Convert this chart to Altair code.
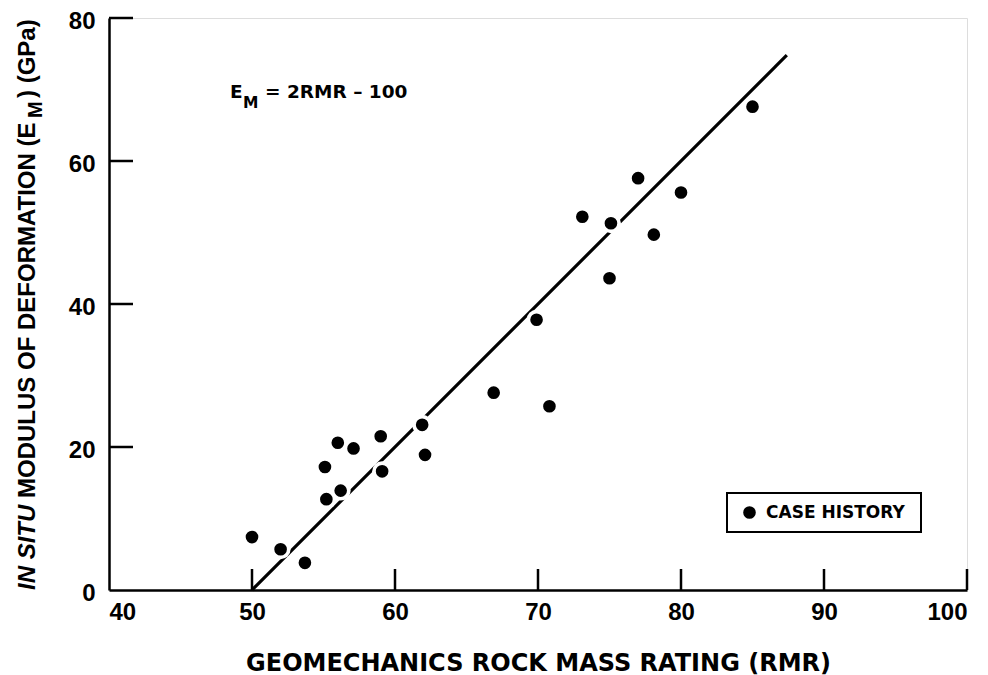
import altair as alt
import pandas as pd

# ---- data ----
rmr = [50.0, 52.0, 53.7, 55.1, 55.2, 56.0, 56.2, 57.1, 59.0, 59.1, 61.9, 62.1,
       66.9, 69.9, 70.8, 73.1, 75.0, 75.1, 77.0, 78.1, 80.0, 85.0]
em = [7.4, 5.7, 3.8, 17.2, 12.7, 20.6, 13.9, 19.8, 21.5, 16.6, 23.1, 18.9,
      27.6, 37.8, 25.7, 52.2, 43.6, 51.3, 57.6, 49.7, 55.6, 67.6]
series_name = ["CASE HISTORY"] * len(rmr)

line_rmr = [50.0, 87.4]
line_em = [0.0, 74.8]

x_ticks = [40, 50, 60, 70, 80, 90, 100]
y_ticks = [0, 20, 40, 60, 80]
x_inner_ticks = [50, 60, 70, 80, 90, 100]
y_inner_ticks = [20, 40, 60, 80]

x_title = "GEOMECHANICS ROCK MASS RATING (RMR)"
y_title_parts = ["IN SITU", "MODULUS OF DEFORMATION (E", "M", ") (GPa)"]
eq_parts = ["E", "M", "= 2RMR \u2013 100"]

W, H = 858, 572
FONT = "Liberation Sans"
WIDE = "DejaVu Sans"

pts = pd.DataFrame({"rmr": rmr, "em": em, "series": series_name})
line_df = pd.DataFrame({"rmr": line_rmr, "em": line_em})

xs = alt.Scale(domain=[40, 100], nice=False, zero=False)
ys = alt.Scale(domain=[0, 80], nice=False, zero=False)

xax = alt.Axis(values=x_ticks, ticks=False, grid=False, domainColor="black",
               domainWidth=2.5, labelFont=FONT, labelFontSize=24,
               labelFontWeight="bold", labelColor="black", labelPadding=10,
               title=x_title, titleFont=WIDE, titleFontSize=24,
               titleFontWeight="bold", titleColor="black",
               titleBaseline="alphabetic", titleY=80)
yax = alt.Axis(values=y_ticks, ticks=False, grid=False, domainColor="black",
               domainWidth=2.5, labelFont=FONT, labelFontSize=24,
               labelFontWeight="bold", labelColor="black", labelPadding=14,
               labelOffset=3, title=None)

base_line = alt.Chart(line_df).mark_line(color="black", strokeWidth=3.2).encode(
    x=alt.X("rmr:Q", scale=xs, axis=xax),
    y=alt.Y("em:Q", scale=ys, axis=yax),
)

halo = alt.Chart(pts).mark_circle(color="white", opacity=1, size=400).encode(
    x=alt.X("rmr:Q", scale=xs), y=alt.Y("em:Q", scale=ys)
)

# legend frame
frame = alt.Chart(pd.DataFrame({"k": [0]})).mark_rect(
    fill="white", stroke="black", strokeWidth=2).encode(
    x=alt.value(618), x2=alt.value(812), y=alt.value(475), y2=alt.value(514))

dots = alt.Chart(pts).mark_circle(opacity=1, size=160).encode(
    x=alt.X("rmr:Q", scale=xs),
    y=alt.Y("em:Q", scale=ys),
    color=alt.Color("series:N", scale=alt.Scale(range=["black"]),
                    legend=alt.Legend(title=None, orient="none", legendX=632,
                                      legendY=486, padding=0, zindex=1,
                                      labelFont=WIDE, labelFontSize=17,
                                      labelFontWeight="bold",
                                      labelColor="black", labelOffset=8,
                                      symbolSize=160, symbolType="circle",
                                      symbolStrokeWidth=0, labelLimit=300)),
)

xt_df = pd.DataFrame({"v": x_inner_ticks})
xtick = alt.Chart(xt_df).mark_rule(color="black", strokeWidth=2.5).encode(
    x=alt.X("v:Q", scale=xs), y=alt.value(H), y2=alt.value(H - 21)
)
yt_df = pd.DataFrame({"v": y_inner_ticks})
ytick = alt.Chart(yt_df).mark_rule(color="black", strokeWidth=2.5).encode(
    y=alt.Y("v:Q", scale=ys), x=alt.value(0), x2=alt.value(24)
)


def txt(s, x, y, size, font=WIDE, style="normal", angle=0, align="left",
        baseline="alphabetic"):
    kw = dict(font=font, fontSize=size, fontWeight="bold", fontStyle=style,
              align=align, baseline=baseline, color="black")
    if angle:
        kw["angle"] = angle
    return alt.Chart(pd.DataFrame({"t": [s]})).mark_text(**kw).encode(
        text="t:N", x=alt.value(x), y=alt.value(y))


# equation annotation
eq1 = txt(eq_parts[0], 121, 80, 18.5)
eq2 = txt(eq_parts[1], 134, 90, 15.5)
eq3 = txt(eq_parts[2], 156, 80, 18.5)

# y title pieces (rotated)
ty = -81
yt1 = txt(y_title_parts[0], ty, 572, 24, font=FONT, style="italic",
          angle=270, baseline="middle")
yt2 = txt(y_title_parts[1], ty, 480, 24, font=FONT, angle=270,
          baseline="middle")
yt3 = txt(y_title_parts[2], ty + 8, 100, 20, font=FONT, angle=270,
          baseline="middle")
yt4 = txt(y_title_parts[3], ty, 80, 24, font=FONT, angle=270,
          baseline="middle")

chart = alt.layer(base_line, xtick, ytick, halo, frame, dots, eq1, eq2, eq3,
                  yt1, yt2, yt3, yt4).properties(
    width=W, height=H,
    autosize=alt.AutoSizeParams(type="none"),
    padding={"left": 101, "top": 10, "right": 13, "bottom": 85},
).configure_view(stroke=None).configure(background="white")

chart.save("out.html", embed_options={"renderer": "svg", "actions": False})
